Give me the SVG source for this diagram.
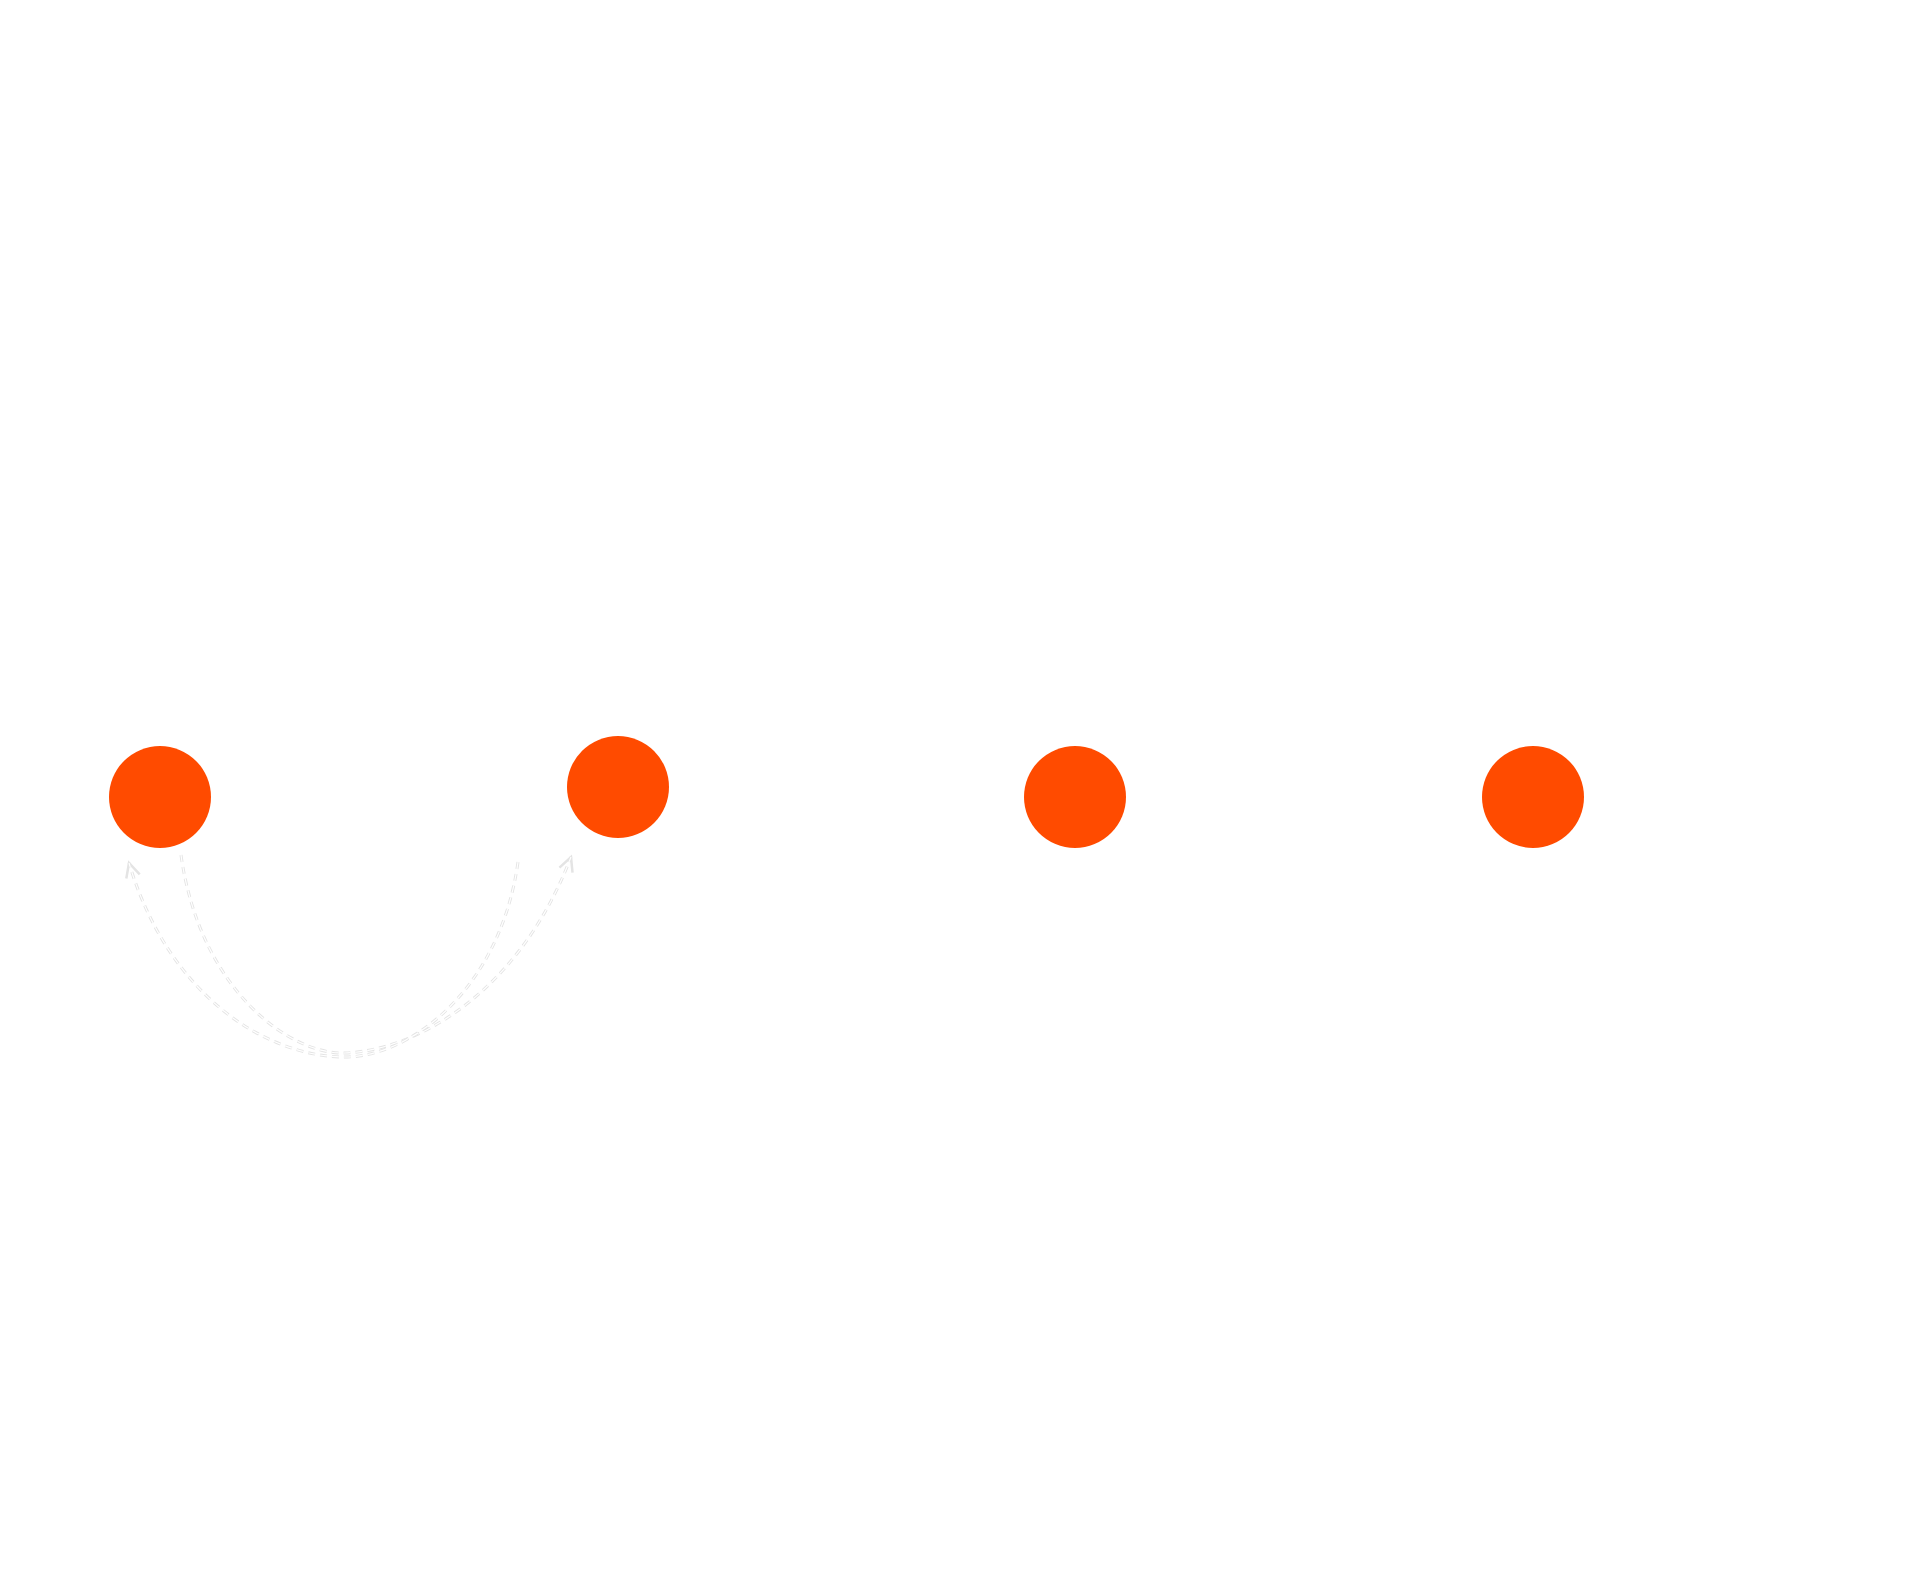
<svg xmlns="http://www.w3.org/2000/svg" width="1920" height="1596" viewBox="0 0 1920 1596">
<style>
.n{fill:#ff4b00}
.e{fill:none;stroke:#e4e4e4;stroke-width:3;stroke-dasharray:7 5}
.ei{fill:none;stroke:#fff;stroke-width:1.2;stroke-dasharray:7 5}
</style>
<defs>
<marker id="a" viewBox="0 0 20 20" refX="16" refY="10" markerWidth="20" markerHeight="20" markerUnits="userSpaceOnUse" orient="auto">
<polyline points="2,3 16,10 2,17" fill="none" stroke="#e4e4e4" stroke-width="2.5"/>
</marker>
</defs>
<rect width="1920" height="1596" fill="#fff"/>
<g id="connectors">
<path class="e" d="M181,855 C200,990 290,1055 345,1053 C420,1050 520,990 571,857" marker-end="url(#a)"/>
<path class="ei" d="M181,855 C200,990 290,1055 345,1053 C420,1050 520,990 571,857"/>
<path class="e" d="M518,862 C500,990 410,1057 345,1057 C270,1057 170,1000 129,863" marker-end="url(#a)"/>
<path class="ei" d="M518,862 C500,990 410,1057 345,1057 C270,1057 170,1000 129,863"/>
</g>
<g id="n1"><circle class="n" cx="160" cy="797" r="51"/></g>
<g id="n2"><circle class="n" cx="618" cy="787" r="51"/></g>
<g id="n3"><circle class="n" cx="1075" cy="797" r="51"/></g>
<g id="n4"><circle class="n" cx="1533" cy="797" r="51"/></g>
</svg>
